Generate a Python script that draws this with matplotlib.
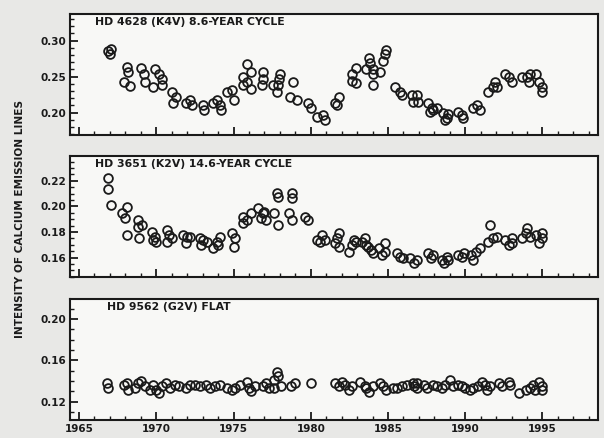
import numpy as np
import matplotlib
matplotlib.use("Agg")
import matplotlib.pyplot as plt
from matplotlib.ticker import MultipleLocator, FormatStrFormatter

# HD 4628 (K4V) 8.6-year cycle
yr_4628 = [1966.9, 1967.1, 1967.0, 1968.1, 1968.2, 1967.9, 1968.3,
           1969.0, 1969.2, 1969.3, 1969.9, 1970.2, 1970.4, 1969.8, 1970.4,
           1971.0, 1971.3, 1971.1, 1971.9, 1972.2, 1972.3, 1973.0, 1973.1,
           1973.7, 1973.9, 1974.1, 1974.2, 1974.6, 1974.9, 1975.0,
           1975.9, 1976.1, 1975.6, 1975.9, 1975.6, 1976.1,
           1976.9, 1976.9, 1976.85, 1977.55, 1977.9, 1978.0, 1977.8, 1977.95,
           1978.85, 1978.65, 1979.1, 1979.8, 1980.0, 1980.4, 1980.8, 1980.9,
           1981.6, 1981.8, 1981.7, 1982.9, 1982.7, 1982.7, 1982.9,
           1983.8, 1983.85, 1983.6, 1984.0, 1984.0, 1984.5, 1984.0,
           1984.9, 1984.8, 1984.7, 1985.45, 1985.8, 1985.9,
           1986.55, 1986.9, 1986.6, 1986.95, 1987.6, 1987.85, 1988.2,
           1987.9, 1987.7, 1988.55, 1988.8, 1988.7, 1988.9,
           1989.5, 1989.8, 1989.85, 1990.5, 1990.75, 1990.95,
           1991.5, 1991.8, 1991.9, 1992.05, 1992.6, 1992.8, 1993.0,
           1993.7, 1994.0, 1994.1, 1994.2, 1994.6, 1994.8, 1995.0, 1995.0]
val_4628 = [0.286, 0.288, 0.281, 0.264, 0.256, 0.243, 0.2375,
            0.262, 0.253, 0.243, 0.260, 0.253, 0.246, 0.235, 0.239,
            0.228, 0.221, 0.214, 0.214, 0.218, 0.210, 0.210, 0.204,
            0.214, 0.218, 0.211, 0.204, 0.228, 0.232, 0.218,
            0.267, 0.256, 0.249, 0.243, 0.239, 0.233,
            0.256, 0.246, 0.239, 0.239, 0.239, 0.253, 0.229, 0.246,
            0.242, 0.222, 0.218, 0.214, 0.207, 0.194, 0.197, 0.190,
            0.214, 0.221, 0.210, 0.2625, 0.253, 0.244, 0.241,
            0.276, 0.269, 0.260, 0.260, 0.253, 0.256, 0.239,
            0.2875, 0.281, 0.272, 0.235, 0.229, 0.225,
            0.225, 0.225, 0.215, 0.215, 0.214, 0.207, 0.207,
            0.204, 0.2015, 0.200, 0.193, 0.190, 0.1985,
            0.2015, 0.197, 0.193, 0.207, 0.211, 0.204,
            0.229, 0.235, 0.243, 0.236, 0.253, 0.249, 0.242,
            0.250, 0.249, 0.242, 0.253, 0.253, 0.243, 0.236, 0.229]

# HD 3651 (K2V) 14.6-year cycle
yr_3651 = [1966.9, 1966.9, 1967.1, 1967.8, 1968.1, 1968.0, 1968.1,
           1968.8, 1969.1, 1968.8, 1968.9, 1969.7, 1969.9, 1970.0, 1969.8,
           1970.7, 1970.8, 1970.7, 1971.0, 1971.7, 1972.2, 1971.9, 1972.0,
           1972.8, 1973.0, 1972.9, 1973.3, 1973.7, 1973.9, 1974.1, 1974.0,
           1974.9, 1975.1, 1975.0,
           1975.6, 1975.6, 1976.1, 1975.9,
           1976.6, 1976.9, 1976.8, 1977.1, 1976.95,
           1977.6, 1977.9, 1977.8, 1977.9, 1978.8, 1978.8, 1978.6, 1978.8,
           1979.6, 1979.8, 1980.7, 1980.9, 1980.6, 1980.4,
           1981.8, 1981.7, 1981.6, 1981.8,
           1982.5, 1982.7, 1982.9, 1982.8, 1983.3, 1983.5, 1983.6, 1983.9,
           1984.0, 1983.7, 1984.4, 1984.6, 1984.8, 1984.8,
           1985.6, 1985.8, 1986.0, 1986.4, 1986.7, 1986.9,
           1987.6, 1987.8, 1987.9, 1988.5, 1988.6, 1988.8, 1988.9,
           1989.5, 1989.8, 1989.9, 1990.4, 1990.5, 1990.7, 1990.95,
           1991.5, 1991.6, 1991.8, 1992.05, 1992.6, 1992.8, 1993.0, 1993.0,
           1993.7, 1993.9, 1994.0, 1994.2, 1994.6, 1994.8, 1995.0, 1995.0]
val_3651 = [0.222, 0.2137, 0.2012, 0.195, 0.1996, 0.191, 0.1778,
            0.1895, 0.1855, 0.184, 0.1754, 0.180, 0.1764, 0.1725, 0.1740,
            0.1816, 0.1777, 0.1725, 0.1754, 0.1777, 0.1764, 0.1713, 0.1764,
            0.1754, 0.1738, 0.170, 0.1725, 0.1676, 0.1725, 0.1764, 0.170,
            0.1793, 0.1754, 0.1686,
            0.192, 0.187, 0.195, 0.1895,
            0.1988, 0.195, 0.191, 0.1895, 0.1957,
            0.195, 0.1855, 0.2105, 0.2074, 0.2105, 0.2066, 0.195, 0.1895,
            0.192, 0.1895, 0.1777, 0.1738, 0.1723, 0.1738,
            0.179, 0.1754, 0.1715, 0.1684,
            0.1647, 0.170, 0.1725, 0.1738, 0.1725, 0.1754, 0.170, 0.166,
            0.1637, 0.168, 0.1676, 0.1621, 0.1715, 0.1647,
            0.1637, 0.1608, 0.1598, 0.1598, 0.1558, 0.1582,
            0.1637, 0.1598, 0.1621, 0.1582, 0.1558, 0.1608, 0.1582,
            0.1621, 0.1608, 0.1637, 0.1621, 0.1582, 0.1647, 0.1676,
            0.1725, 0.1855, 0.1754, 0.1764, 0.1738, 0.170, 0.1715, 0.1754,
            0.1754, 0.179, 0.1832, 0.1764, 0.1777, 0.1715, 0.179, 0.1750]

# HD 9562 (G2V) flat
yr_9562 = [1966.8, 1966.9, 1967.9, 1968.2, 1968.1, 1968.6, 1968.8, 1969.0,
           1969.3, 1969.6, 1969.8, 1970.0, 1970.2, 1970.4, 1970.6, 1970.9,
           1971.2, 1971.5, 1971.9, 1972.2, 1972.5, 1972.8, 1973.2, 1973.5,
           1973.8, 1974.1, 1974.6, 1974.9, 1975.1, 1975.4, 1975.9, 1976.0,
           1976.1, 1976.4, 1976.9, 1977.1, 1977.3, 1977.6, 1977.8, 1977.9,
           1978.1, 1977.6, 1978.7, 1979.0, 1980.0,
           1981.6, 1981.8, 1982.0, 1982.2, 1982.5, 1982.7, 1983.2, 1983.5,
           1983.6, 1983.8, 1984.0, 1984.5, 1984.7, 1984.9, 1985.3, 1985.6,
           1985.9, 1986.2, 1986.6, 1986.7, 1986.9, 1986.9, 1987.3, 1987.5,
           1987.9, 1988.2, 1988.5, 1988.7, 1989.0, 1989.2, 1989.5, 1989.8,
           1990.0, 1990.3, 1990.5, 1990.8, 1991.1, 1991.3, 1991.4, 1991.6,
           1992.2, 1992.4, 1992.8, 1992.9, 1993.5, 1993.9, 1994.2, 1994.4,
           1994.5, 1994.8, 1995.0, 1995.0]
val_9562 = [0.138, 0.133, 0.136, 0.131, 0.138, 0.133, 0.138, 0.140,
            0.135, 0.131, 0.136, 0.131, 0.128, 0.135, 0.138, 0.133,
            0.136, 0.135, 0.133, 0.136, 0.136, 0.135, 0.136, 0.133,
            0.135, 0.136, 0.133, 0.131, 0.133, 0.136, 0.139, 0.133,
            0.130, 0.135, 0.135, 0.138, 0.133, 0.141, 0.149, 0.145,
            0.135, 0.133, 0.135, 0.138, 0.138,
            0.138, 0.1346, 0.1394, 0.136, 0.131, 0.1346, 0.139, 0.1346,
            0.133, 0.1297, 0.1346, 0.138, 0.135, 0.131, 0.133, 0.133,
            0.135, 0.136, 0.138, 0.135, 0.133, 0.138, 0.136, 0.133,
            0.136, 0.135, 0.133, 0.136, 0.141, 0.135, 0.136, 0.135,
            0.133, 0.131, 0.133, 0.135, 0.139, 0.136, 0.131, 0.135,
            0.138, 0.135, 0.139, 0.136, 0.128, 0.131, 0.133, 0.136,
            0.131, 0.139, 0.135, 0.131]

titles = ["HD 4628 (K4V) 8.6-YEAR CYCLE",
          "HD 3651 (K2V) 14.6-YEAR CYCLE",
          "HD 9562 (G2V) FLAT"]
ylims = [(0.169, 0.337), (0.145, 0.2395), (0.102, 0.2194)]
ymajor = [0.05, 0.02, 0.04]
yminor = [0.01, 0.005, 0.01]
yfirst = [0.20, 0.16, 0.12]

ink = "#1a1a1a"
fig = plt.figure(figsize=(6.04, 4.38), dpi=100, facecolor="#e8e8e6")

boxes = [(0.116, 0.692, 0.874, 0.276),
         (0.116, 0.368, 0.874, 0.276),
         (0.116, 0.041, 0.874, 0.276)]
title_x = [0.047, 0.047, 0.070]
data = [(yr_4628, val_4628), (yr_3651, val_3651), (yr_9562, val_9562)]

for i, (box, (xs, ys)) in enumerate(zip(boxes, data)):
    ax = fig.add_axes(box, facecolor="#f8f8f6")
    ax.plot(xs, ys, linestyle="none", marker="o", ms=6.3, mfc="none",
            mec=ink, mew=1.3)
    ax.set_xlim(1964.42, 1998.59)
    ax.set_ylim(*ylims[i])
    ax.xaxis.set_major_locator(MultipleLocator(5))
    ax.xaxis.set_minor_locator(MultipleLocator(1))
    ticks = np.arange(yfirst[i], ylims[i][1], ymajor[i])
    ax.set_yticks(ticks)
    ax.yaxis.set_minor_locator(MultipleLocator(yminor[i]))
    ax.yaxis.set_major_formatter(FormatStrFormatter("%.2f"))
    ax.tick_params(which="both", direction="in", color=ink, top=False,
                   right=False, labelsize=7.5, labelcolor=ink, pad=3)
    ax.tick_params(which="major", length=6, width=1.3)
    ax.tick_params(which="minor", length=3, width=1.0)
    for lab in ax.get_yticklabels():
        lab.set_fontweight("bold")
    if i < 2:
        ax.set_xticklabels([])
    else:
        ax.set_xticks(range(1965, 1996, 5))
        ax.set_xticklabels([str(y) for y in range(1965, 1996, 5)],
                           fontweight="bold")
    for sp in ax.spines.values():
        sp.set_color(ink)
        sp.set_linewidth(1.5)
    ax.text(title_x[i], 0.975, titles[i], transform=ax.transAxes, ha="left",
            va="top", fontsize=7.8, fontweight="bold", color=ink)

fig.text(0.033, 0.5, "INTENSITY OF CALCIUM EMISSION LINES", rotation=90,
         ha="center", va="center", fontsize=7.6, fontweight="bold", color=ink)

fig.savefig("out.png", dpi=100, facecolor=fig.get_facecolor())
